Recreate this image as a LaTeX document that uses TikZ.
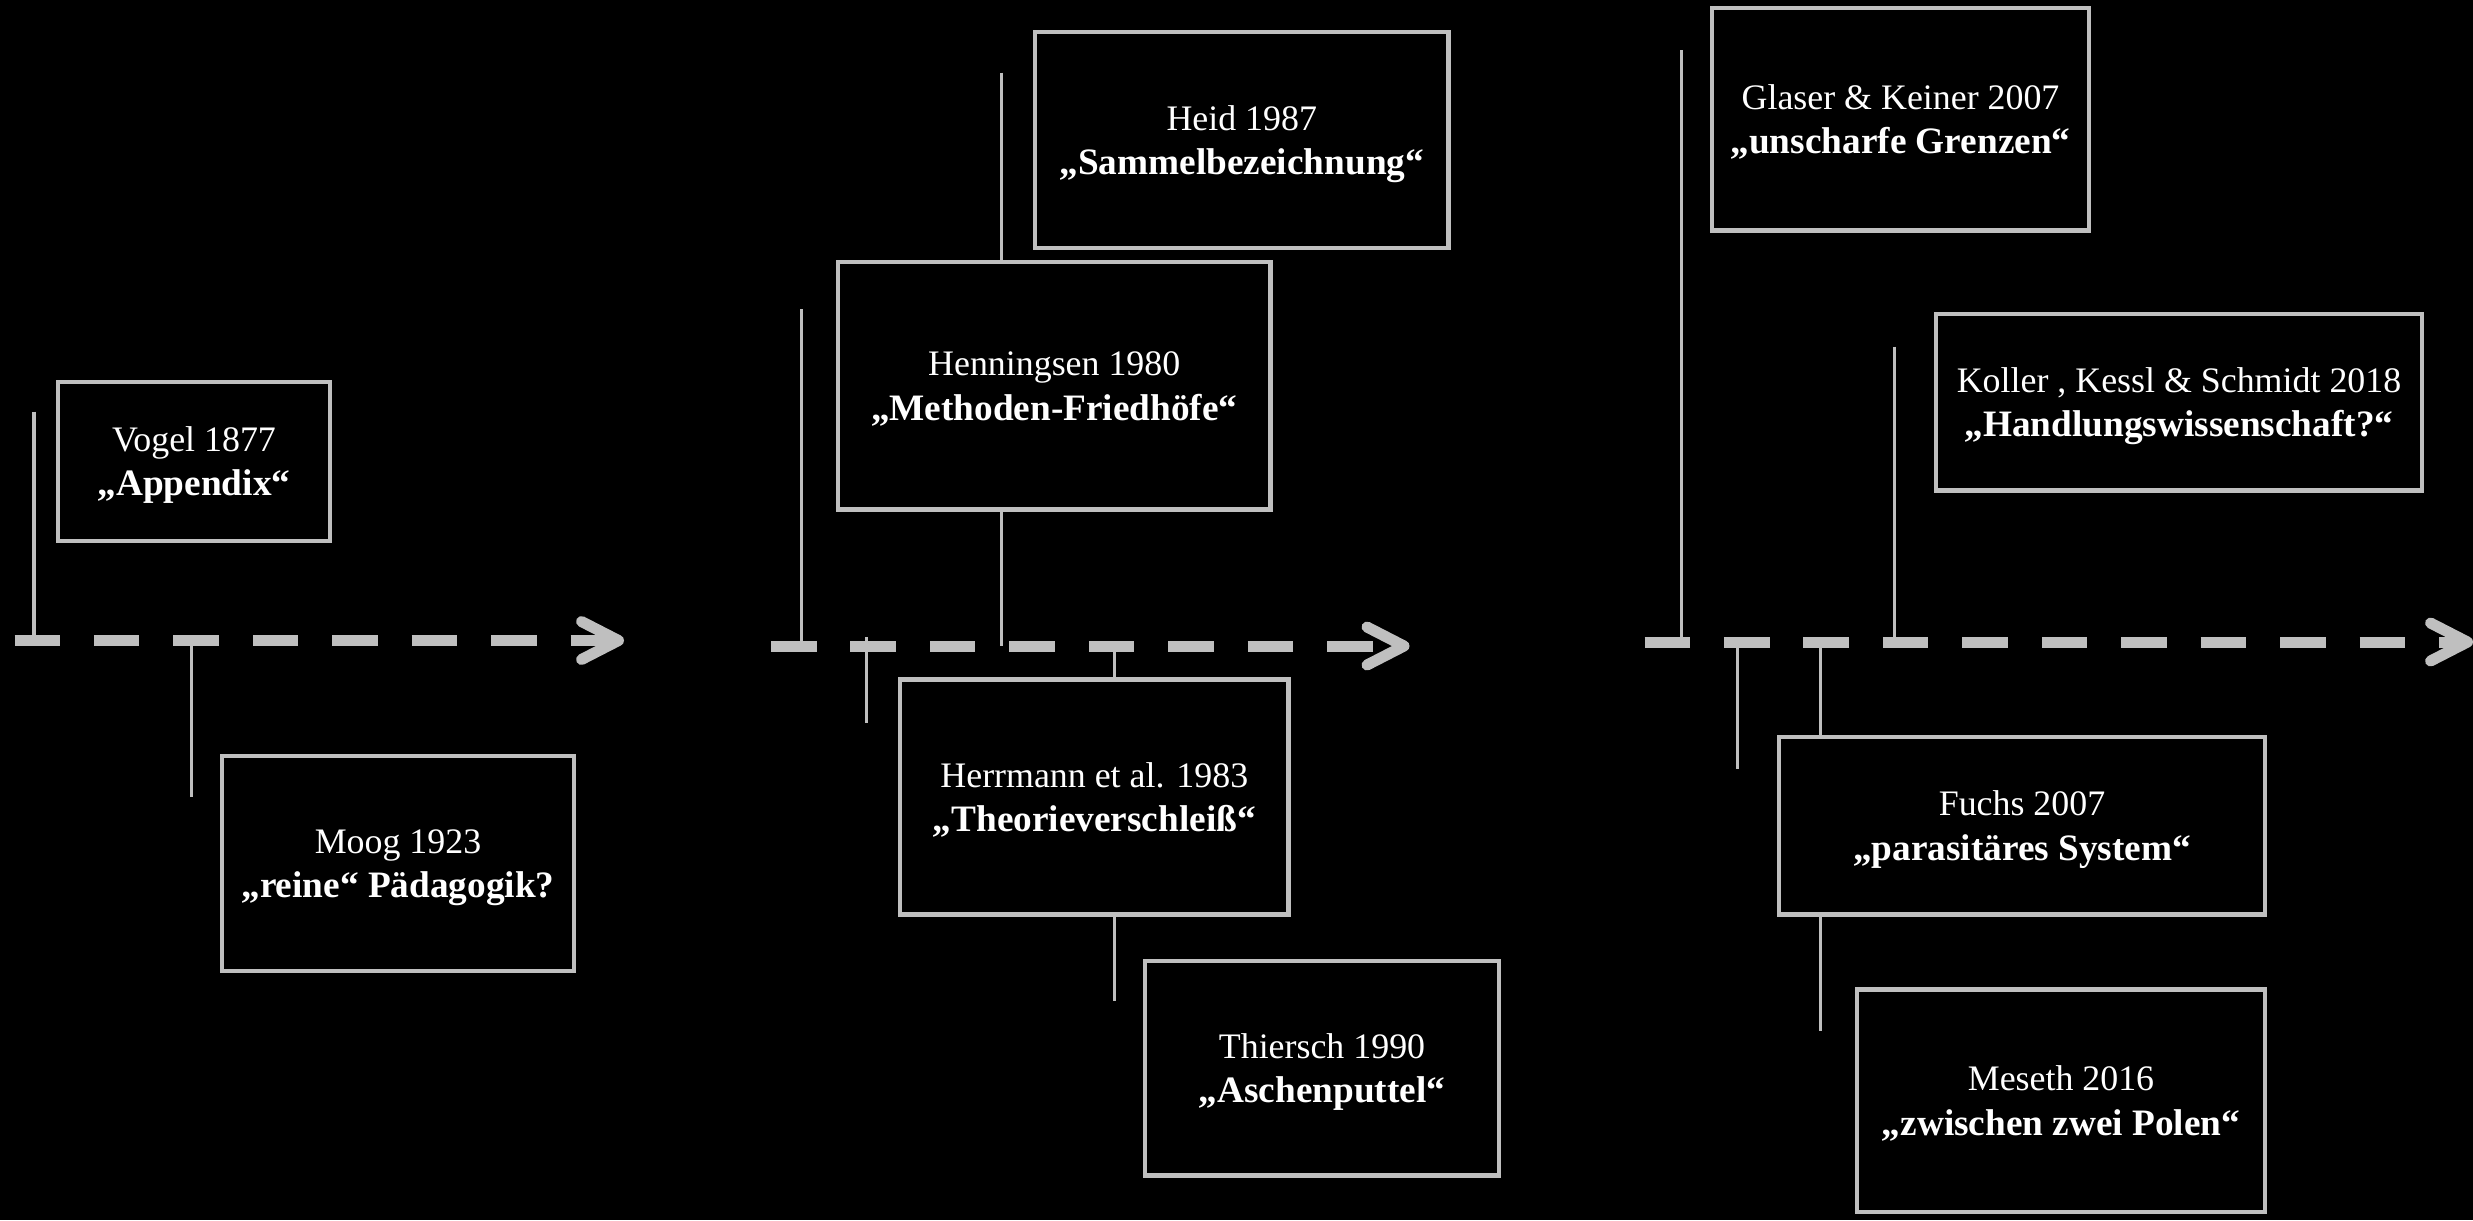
\documentclass[tikz,border=0pt]{standalone}
\usepackage{fontspec}
\setmainfont{Liberation Serif}
\usetikzlibrary{calc}
\definecolor{tlgray}{RGB}{191,191,191}
\newcommand\cardtext[2]{\rule{0pt}{0.343cm}#1\\{\fontsize{10.6pt}{12.6pt}\selectfont\bfseries #2}\rule[-0.1cm]{0pt}{0pt}}
\begin{document}
\begin{tikzpicture}[x=0.01cm,y=-0.01cm,
  tickline/.style={draw=tlgray, line width=0.03cm},
  timeline/.style={draw=tlgray, line width=0.11cm, dash pattern=on 0.455cm off 0.339cm},
  barb/.style={draw=tlgray, line width=0.11cm, line cap=round, line join=round},
  card/.style={draw=tlgray, fill=black, line width=0.045cm, text=white, align=center,
    inner sep=0pt, font=\fontsize{10.2pt}{12.6pt}\selectfont},
]
\fill[black] (0,0) rectangle (2473,1220);
\useasboundingbox (0,0) rectangle (2473,1220);

% tick end points
\coordinate (vogT) at (34,411.7);    \coordinate (vogB) at (34,640.5);
\coordinate (moogT) at (191,640.5);  \coordinate (moogB) at (191,796.7);
\coordinate (henT) at (801.5,309);   \coordinate (henB) at (801.5,646);
\coordinate (heidT) at (1001.5,72.7);\coordinate (heidB) at (1001.5,646);
\coordinate (herT) at (866,637);     \coordinate (herB) at (866,722.6);
\coordinate (thiT) at (1114,646);    \coordinate (thiB) at (1114,1000.8);
\coordinate (glaT) at (1681,50);     \coordinate (glaB) at (1681,642);
\coordinate (kolT) at (1894.5,346.7);\coordinate (kolB) at (1894.5,642);
\coordinate (fucT) at (1737,642);    \coordinate (fucB) at (1737,769);
\coordinate (mesT) at (1820.5,642);  \coordinate (mesB) at (1820.5,1031.4);

\foreach \a/\b in {vogT/vogB, moogT/moogB, henT/henB, heidT/heidB, herT/herB,
                   thiT/thiB, glaT/glaB, kolT/kolB, fucT/fucB, mesT/mesB}
  \draw[tickline] (\a) -- (\b);

% timelines
\coordinate (s1) at (14.5,640.5);  \coordinate (e1) at (618.5,640.5);
\coordinate (s2) at (771,646);     \coordinate (e2) at (1404,646);
\coordinate (s3) at (1644.5,642);  \coordinate (e3) at (2467.5,642);
\foreach \i in {1,2,3}{
  \draw[timeline] (s\i) -- (e\i);
  \draw[barb] ($(e\i)+(-37,-19)$) -- (e\i) -- ($(e\i)+(-37,19)$);
}

% cards
\node[card, minimum width=2.715cm, minimum height=1.585cm] (vogel) at (194,461.5)
  {\cardtext{Vogel 1877}{„Appendix“}};
\node[card, minimum width=3.52cm, minimum height=2.145cm] (moog) at (398,863.5)
  {\cardtext{Moog 1923}{„reine“ Pädagogik?}};
\node[card, minimum width=4.32cm, minimum height=2.472cm] (henn) at (1054.25,385.85)
  {\cardtext{Henningsen 1980}{„Methoden-Friedhöfe“}};
\node[card, minimum width=4.13cm, minimum height=2.155cm] (heid) at (1241.75,140)
  {\cardtext{Heid 1987}{„Sammelbezeichnung“}};
\node[card, minimum width=3.885cm, minimum height=2.347cm] (herr) at (1094.3,797)
  {\cardtext{Herrmann et al. 1983}{„Theorieverschleiß“}};
\node[card, minimum width=3.535cm, minimum height=2.144cm] (thier) at (1322,1068.2)
  {\cardtext{Thiersch 1990}{„Aschenputtel“}};
\node[card, minimum width=3.765cm, minimum height=2.222cm] (glaser) at (1900.5,119.35)
  {\cardtext{Glaser \& Keiner 2007}{„unscharfe Grenzen“}};
\node[card, minimum width=4.855cm, minimum height=1.765cm] (koller) at (2179,402.2)
  {\cardtext{Koller , Kessl \& Schmidt 2018}{„Handlungswissenschaft?“}};
\node[card, minimum width=4.855cm, minimum height=1.773cm] (fuchs) at (2022,825.7)
  {\cardtext{Fuchs 2007}{„parasitäres System“}};
\node[card, minimum width=4.075cm, minimum height=2.221cm] (meseth) at (2061,1100.7)
  {\cardtext{Meseth 2016}{„zwischen zwei Polen“}};
\end{tikzpicture}
\end{document}
